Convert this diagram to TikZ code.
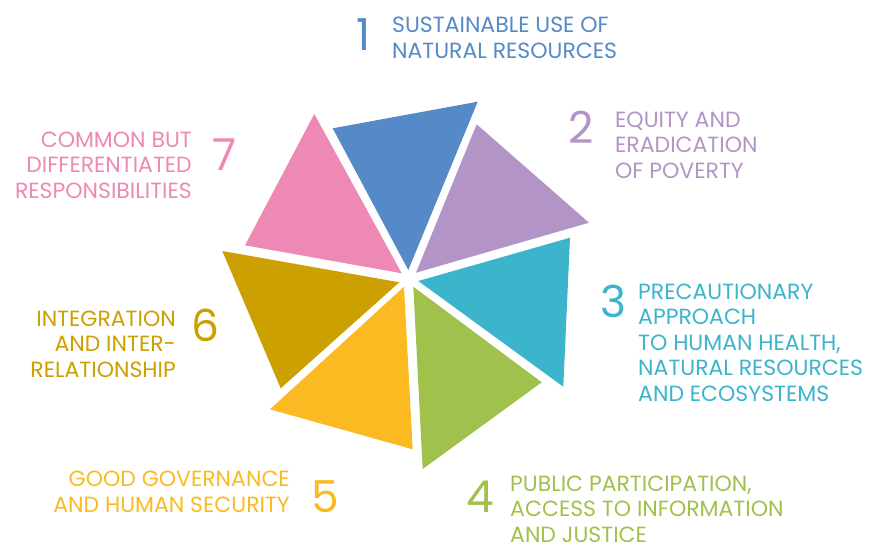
\documentclass[tikz,border=0pt]{standalone}
\usepackage{fontspec}
\setmainfont{Poppins}
\definecolor{cblue}{HTML}{5589C7}
\definecolor{cpurple}{HTML}{B294C7}
\definecolor{ccyan}{HTML}{3BB4CC}
\definecolor{cgreen}{HTML}{A0C14C}
\definecolor{cyellow}{HTML}{FBBA22}
\definecolor{colive}{HTML}{CBA000}
\definecolor{cpink}{HTML}{EE88B4}
\tikzset{
  lbl/.style={inner sep=0pt, font=\fontsize{22}{25.5}\selectfont, anchor=base west, align=left},
  lblr/.style={inner sep=0pt, font=\fontsize{22}{25.5}\selectfont, anchor=base east, align=right},
  num/.style={inner sep=0pt, font=\fontsize{44}{44}\selectfont, anchor=base}
}
\begin{document}
\begin{tikzpicture}[x=1pt,y=-1pt]
\path[use as bounding box] (0,0) rectangle (876,544);
% triangles
\fill[cblue]   (332.7,128.3) -- (477.7,101.7) -- (408.3,270) -- cycle;
\fill[cpurple] (476.7,124.3) -- (589,222.7) -- (416,272.7) -- cycle;
\fill[ccyan]   (570,237.7) -- (563.3,386.7) -- (418.3,281) -- cycle;
\fill[cgreen]  (413.3,286.7) -- (541.7,382.3) -- (422.7,469) -- cycle;
\fill[cyellow] (404,286.7) -- (412.7,449.3) -- (270,409.3) -- cycle;
\fill[colive]  (399.3,282.3) -- (280.7,388.3) -- (222.3,251) -- cycle;
\fill[cpink]   (401.7,273.3) -- (245,245.3) -- (314.3,114) -- cycle;
% numbers
\node[num, text=cblue]   (n1) at (363.5,50) {1};
\node[num, text=cpurple] (n2) at (581,143) {2};
\node[num, text=ccyan]   (n3) at (613.5,317) {3};
\node[num, text=cgreen]  (n4) at (480,512) {4};
\node[num, text=cyellow] (n5) at (325,512) {5};
\node[num, text=colive]  (n6) at (205.5,341) {6};
\node[num, text=cpink]   (n7) at (225,170) {7};
% labels (anchored at the baseline of the last line)
\node[lbl, text=cblue]   (t1) at (392,58) {SUSTAINABLE USE OF\\NATURAL RESOURCES};
\node[lbl, text=cpurple] (t2) at (615,178) {EQUITY AND\\ERADICATION\\OF POVERTY};
\node[lbl, text=ccyan]   (t3) at (638,401) {PRECAUTIONARY\\APPROACH\\TO HUMAN HEALTH,\\NATURAL RESOURCES\\AND ECOSYSTEMS};
\node[lbl, text=cgreen]  (t4) at (510,542) {PUBLIC PARTICIPATION,\\ACCESS TO INFORMATION\\AND JUSTICE};
\node[lblr, text=cyellow] (t5) at (290,512) {GOOD GOVERNANCE\\AND HUMAN SECURITY};
\node[lblr, text=colive]  (t6) at (176,377) {INTEGRATION\\AND INTER-\\RELATIONSHIP};
\node[lblr, text=cpink]   (t7) at (192,198) {COMMON BUT\\DIFFERENTIATED\\RESPONSIBILITIES};
\end{tikzpicture}
\end{document}
